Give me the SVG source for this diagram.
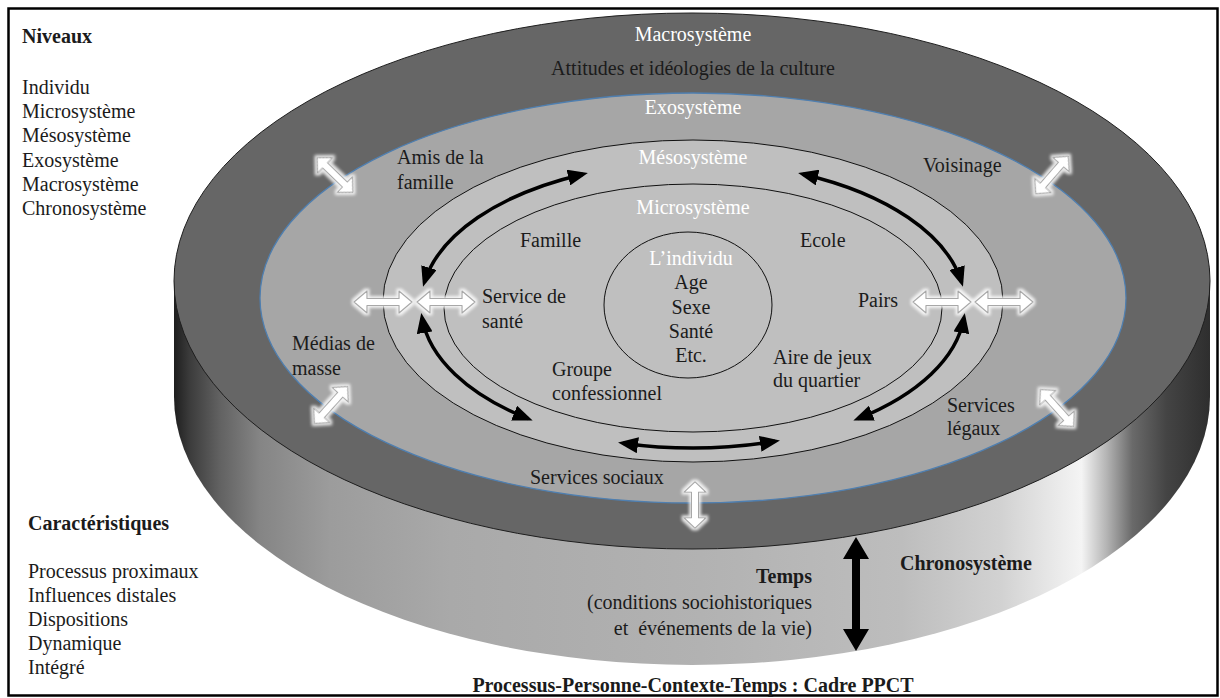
<svg xmlns="http://www.w3.org/2000/svg" xmlns:xlink="http://www.w3.org/1999/xlink" width="1220" height="698" viewBox="0 0 1220 698">
<style>
text{font-family:"Liberation Serif","Times New Roman",serif;fill:#1b1b1b;font-size:20px}
.b{font-weight:bold}
.w{fill:#ffffff}
.c{text-anchor:middle}
.r{text-anchor:end}
.curve{fill:none;stroke:#000;stroke-width:3.5;marker-start:url(#ah);marker-end:url(#ah)}
.wa{fill:#fff;stroke:#a8a8a8;stroke-width:1.2;stroke-linejoin:round}
</style>
<defs>
<linearGradient id="side" gradientUnits="userSpaceOnUse" x1="174" y1="0" x2="1210" y2="0">
<stop offset="0" stop-color="#1e1e1e"/>
<stop offset="0.0155" stop-color="#3c3c3c"/>
<stop offset="0.0445" stop-color="#626262"/>
<stop offset="0.083" stop-color="#858585"/>
<stop offset="0.151" stop-color="#9c9c9c"/>
<stop offset="0.267" stop-color="#a9a9a9"/>
<stop offset="0.509" stop-color="#b2b2b2"/>
<stop offset="0.702" stop-color="#bdbdbd"/>
<stop offset="0.799" stop-color="#d2d2d2"/>
<stop offset="0.857" stop-color="#ececec"/>
<stop offset="0.876" stop-color="#f4f4f4"/>
<stop offset="0.900" stop-color="#b5b5b5"/>
<stop offset="0.925" stop-color="#6a6a6a"/>
<stop offset="0.958" stop-color="#444444"/>
<stop offset="1" stop-color="#2e2e2e"/>
</linearGradient>
<marker id="ah" viewBox="0 0 20 16" refX="15" refY="8" markerWidth="20" markerHeight="16" markerUnits="userSpaceOnUse" orient="auto-start-reverse">
<path d="M0,0 L20,8 L0,16 Z" fill="#000"/>
</marker>
<filter id="glow" x="-40%" y="-40%" width="180%" height="180%">
<feMorphology in="SourceAlpha" operator="dilate" radius="1.5" result="d"/>
<feGaussianBlur in="d" stdDeviation="1.6" result="bl"/>
<feFlood flood-color="#ffffff" flood-opacity="0.85"/>
<feComposite in2="bl" operator="in" result="g"/>
<feMerge><feMergeNode in="g"/><feMergeNode in="SourceGraphic"/></feMerge>
</filter>
<path id="dbl" class="wa" d="M-29,0 L-16,-11 L-16,-3.5 L16,-3.5 L16,-11 L29,0 L16,11 L16,3.5 L-16,3.5 L-16,11 Z"/>
</defs>

<rect x="0" y="0" width="1220" height="698" fill="#fff"/>
<rect id="frame" x="8.5" y="8.5" width="1209" height="687" fill="none" stroke="#000" stroke-width="2.5"/>

<g id="niveaux">
<text class="b" x="22" y="43" font-size="23">Niveaux</text>
<text x="22" y="94">Individu</text>
<text x="22" y="118.2">Microsystème</text>
<text x="22" y="142.4">Mésosystème</text>
<text x="22" y="166.6">Exosystème</text>
<text x="22" y="190.8">Macrosystème</text>
<text x="22" y="215">Chronosystème</text>
</g>

<g id="caracteristiques">
<text class="b" x="28" y="530" font-size="22">Caractéristiques</text>
<text x="28" y="578">Processus proximaux</text>
<text x="28" y="602">Influences distales</text>
<text x="28" y="626">Dispositions</text>
<text x="28" y="650">Dynamique</text>
<text x="28" y="674">Intégré</text>
</g>

<g id="cylinder">
<path d="M174,281 V397 A518,268 0 0 0 1210,397 V281 Z" fill="url(#side)"/>
</g>

<g id="macrosysteme">
<ellipse cx="692" cy="281" rx="518" ry="268" fill="#666666" stroke="#1e1e1e" stroke-width="1"/>
<text class="w c" x="693" y="41" font-size="22">Macrosystème</text>
<text class="c" x="693" y="75" font-size="22">Attitudes et idéologies de la culture</text>
</g>

<g id="exosysteme">
<ellipse cx="693" cy="298" rx="433" ry="205" fill="#a6a6a6" stroke="#4f7fb0" stroke-width="1.3"/>
<text class="w c" x="693" y="114" font-size="21">Exosystème</text>
<text x="397" y="164">Amis de la</text>
<text x="397" y="189">famille</text>
<text x="923" y="172">Voisinage</text>
<text x="292" y="350">Médias de</text>
<text x="292" y="375">masse</text>
<text x="947" y="412">Services</text>
<text x="947" y="435">légaux</text>
<text x="530" y="484">Services sociaux</text>
</g>

<g id="mesosysteme">
<ellipse cx="693" cy="301" rx="310" ry="161" fill="#bfbfbf" stroke="#111" stroke-width="1"/>
<text class="w c" x="693" y="164" font-size="21">Mésosystème</text>
</g>

<g id="microsysteme">
<ellipse cx="693" cy="308" rx="249" ry="124" fill="#bfbfbf" stroke="#111" stroke-width="1"/>
<text class="w c" x="693" y="214" font-size="21">Microsystème</text>
<text x="520" y="247">Famille</text>
<text x="800" y="247">Ecole</text>
<text x="482" y="303">Service de</text>
<text x="482" y="328">santé</text>
<text x="858" y="307">Pairs</text>
<text x="552" y="376">Groupe</text>
<text x="552" y="400">confessionnel</text>
<text x="773" y="364">Aire de jeux</text>
<text x="773" y="387">du quartier</text>
</g>

<g id="individu">
<ellipse cx="688" cy="305" rx="84" ry="73" fill="none" stroke="#111" stroke-width="1"/>
<text class="w c" x="691" y="265" font-size="22">L’individu</text>
<text class="c" x="691" y="289">Age</text>
<text class="c" x="691" y="314">Sexe</text>
<text class="c" x="691" y="338">Santé</text>
<text class="c" x="691" y="362">Etc.</text>
</g>

<g id="connectors">
<path class="curve" d="M583,174.2 A272,143 0 0 0 424.5,282"/>
<path class="curve" d="M803,174.2 A272,143 0 0 1 961.5,282"/>
<path class="curve" d="M422.1,318 A272,143 0 0 0 528,418.7"/>
<path class="curve" d="M963.9,318 A272,143 0 0 1 858,418.7"/>
<path class="curve" d="M623,443.2 A272,143 0 0 0 775,441.3"/>
<g filter="url(#glow)">
<use xlink:href="#dbl" transform="translate(383,302)"/>
<use xlink:href="#dbl" transform="translate(446,302)"/>
<use xlink:href="#dbl" transform="translate(942,302)"/>
<use xlink:href="#dbl" transform="translate(1004,302)"/>
<use xlink:href="#dbl" transform="translate(335,175) rotate(44) scale(0.86,1)"/>
<use xlink:href="#dbl" transform="translate(1052,175) rotate(-49) scale(0.86,1)"/>
<use xlink:href="#dbl" transform="translate(331,405) rotate(-48) scale(0.86,1)"/>
<use xlink:href="#dbl" transform="translate(1057,408) rotate(48) scale(0.86,1)"/>
<use xlink:href="#dbl" transform="translate(695,505) rotate(90) scale(0.8,1)"/>
</g>
<path id="chrono-arrow" d="M856,537 L869,559 L860,559 L860,629 L869,629 L856,651 L843,629 L852,629 L852,559 L843,559 Z" fill="#000"/>
</g>

<g id="chronosysteme">
<text class="b" x="900" y="570" font-size="24.5">Chronosystème</text>
<text class="b r" x="812" y="583" font-size="22">Temps</text>
<text class="r" x="812" y="609">(conditions sociohistoriques</text>
<text class="r" x="812" y="635">et&#160; événements de la vie)</text>
</g>

<g id="title">
<text class="b c" x="693" y="692" font-size="23">Processus-Personne-Contexte-Temps : Cadre PPCT</text>
</g>
</svg>
